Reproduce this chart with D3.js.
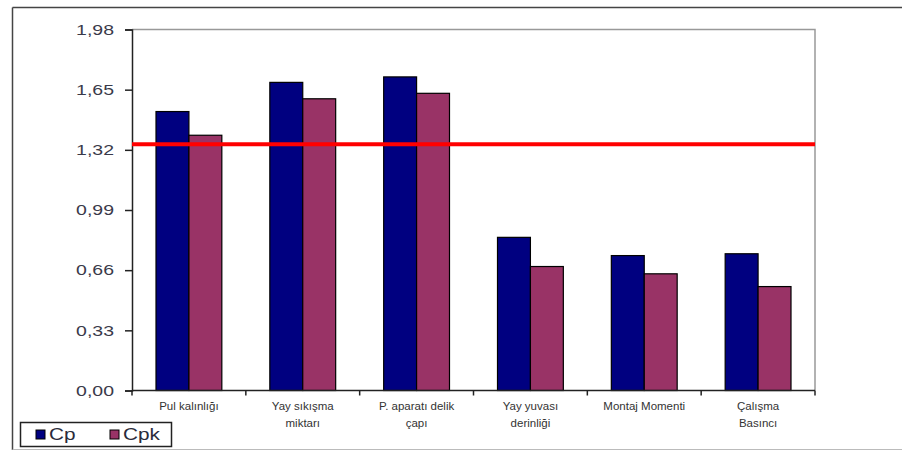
<!DOCTYPE html>
<html>
<head>
<meta charset="utf-8">
<script src="https://cdn.jsdelivr.net/npm/d3@7"></script>
<style>
  html, body { margin: 0; padding: 0; background: #fff; }
  svg { display: block; font-family: "Liberation Sans", Arial, sans-serif; }
</style>
</head>
<body>
<svg id="chart" width="902" height="451"></svg>
<script>
// Process capability indices per characteristic
const categories = [
  ["Pul kalınlığı"],
  ["Yay sıkışma", "miktarı"],
  ["P. aparatı delik", "çapı"],
  ["Yay yuvası", "derinliği"],
  ["Montaj Momenti"],
  ["Çalışma", "Basıncı"]
];
const cpValues  = [1.53, 1.69, 1.72, 0.84, 0.74, 0.75];
const cpkValues = [1.40, 1.60, 1.63, 0.68, 0.64, 0.57];
const seriesNames = ["Cp", "Cpk"];
const seriesColors = ["#000080", "#993366"];
const yTicks = [0, 0.33, 0.66, 0.99, 1.32, 1.65, 1.98];
const limitValue = 1.35;

const svg = d3.select("#chart");

// Outer chart frame
svg.append("line").attr("x1", 12.5).attr("y1", 7.5).attr("x2", 902).attr("y2", 7.5)
  .attr("stroke", "#444").attr("stroke-width", 1.5);
svg.append("line").attr("x1", 12.5).attr("y1", 7.5).attr("x2", 12.5).attr("y2", 450)
  .attr("stroke", "#444").attr("stroke-width", 1.5);
svg.append("line").attr("x1", 12.5).attr("y1", 449.5).attr("x2", 902).attr("y2", 449.5)
  .attr("stroke", "#bbb").attr("stroke-width", 1);

const plot = { left: 132, right: 815, top: 29.5, bottom: 390.5 };

const x0 = d3.scaleBand()
  .domain(d3.range(categories.length))
  .range([plot.left, plot.right])
  .paddingInner(0).paddingOuter(0);
const groupPad = 24;
const x1 = d3.scaleBand()
  .domain(seriesNames)
  .range([groupPad, x0.bandwidth() - groupPad]);
const y = d3.scaleLinear().domain([0, 1.98]).range([plot.bottom, plot.top]);

// Plot border (top and right in gray)
svg.append("path")
  .attr("d", `M${plot.left},${plot.top}H${plot.right}V${plot.bottom}`)
  .attr("fill", "none").attr("stroke", "#999").attr("stroke-width", 1.5);

// Bars
const groups = svg.append("g").selectAll("g")
  .data(categories.map((c, i) => ({ i, vals: [cpValues[i], cpkValues[i]] })))
  .join("g")
  .attr("transform", d => `translate(${x0(d.i)},0)`);
groups.selectAll("rect")
  .data(d => d.vals.map((v, k) => ({ v, k })))
  .join("rect")
  .attr("x", d => x1(seriesNames[d.k]))
  .attr("y", d => y(d.v))
  .attr("width", x1.bandwidth())
  .attr("height", d => y(0) - y(d.v))
  .attr("fill", d => seriesColors[d.k])
  .attr("stroke", "#000").attr("stroke-width", 1.2);

// Y axis
const yAxis = d3.axisLeft(y).tickValues(yTicks).tickSize(7).tickPadding(10)
  .tickFormat(d => d3.format(".2f")(d).replace(".", ","));
const gy = svg.append("g").attr("transform", `translate(${plot.left},0)`).call(yAxis);
gy.select(".domain").attr("stroke", "#222").attr("stroke-width", 1.5);
gy.selectAll(".tick line").attr("stroke", "#222").attr("stroke-width", 1.5);
gy.selectAll(".tick text")
  .attr("x", 0)
  .attr("transform", "translate(-18,0) scale(1.3,1)")
  .attr("fill", "#3a3a4a").style("font-size", "15px");

// X axis with category boundary ticks
const gx = svg.append("g").attr("transform", `translate(0,${plot.bottom})`);
gx.append("line").attr("x1", plot.left).attr("x2", plot.right)
  .attr("stroke", "#222").attr("stroke-width", 1.5);
gx.selectAll(".bt").data(d3.range(categories.length + 1)).join("line")
  .attr("x1", i => plot.left + i * x0.bandwidth())
  .attr("x2", i => plot.left + i * x0.bandwidth())
  .attr("y1", 0).attr("y2", 5)
  .attr("stroke", "#222").attr("stroke-width", 1.5);
const lbl = gx.selectAll("text").data(categories).join("text")
  .attr("text-anchor", "middle")
  .attr("fill", "#333")
  .style("font-size", "11.5px")
  .attr("transform", (d, i) => `translate(${x0(i) + x0.bandwidth() / 2},19)`);
lbl.selectAll("tspan").data(d => d).join("tspan")
  .attr("x", 0).attr("dy", (d, j) => j === 0 ? 0 : 17)
  .text(d => d);

// Limit line
svg.append("line")
  .attr("x1", plot.left).attr("x2", plot.right)
  .attr("y1", y(limitValue)).attr("y2", y(limitValue))
  .attr("stroke", "#ff0000").attr("stroke-width", 4);

// Legend
const lg = svg.append("g").attr("transform", "translate(20,422)");
lg.append("rect").attr("x", 0.5).attr("y", 0.5).attr("width", 151).attr("height", 24)
  .attr("fill", "#fff").attr("stroke", "#222").attr("stroke-width", 1.5);
const items = lg.selectAll(".it").data(seriesNames).join("g")
  .attr("transform", (d, i) => `translate(${16 + i * 74},12)`);
items.append("rect").attr("x", 0).attr("y", -4).attr("width", 9).attr("height", 9)
  .attr("fill", (d, i) => seriesColors[i]).attr("stroke", "#000").attr("stroke-width", 1);
items.append("text")
  .attr("transform", "translate(13,6) scale(1.3,1)")
  .attr("fill", "#2a2a3a").style("font-size", "16px").text(d => d);
</script>
</body>
</html>
